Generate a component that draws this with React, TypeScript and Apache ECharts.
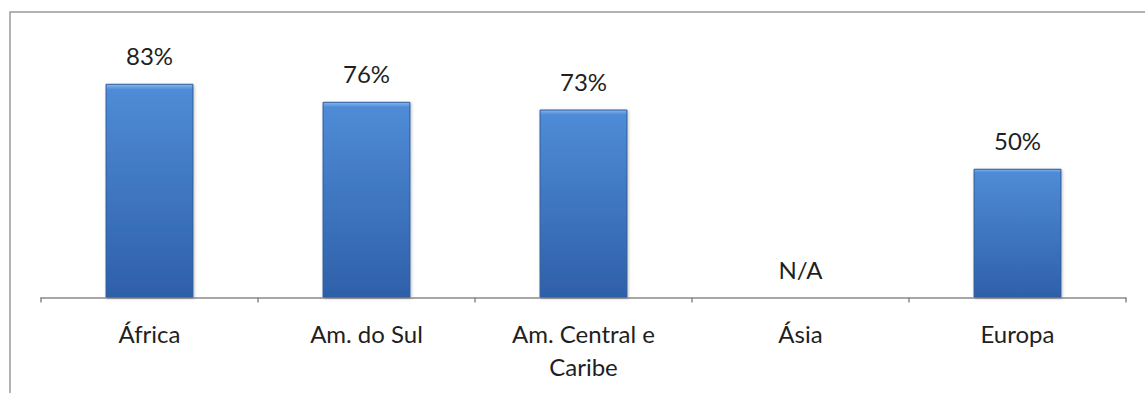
import React, { useEffect, useRef } from "react";
import * as echarts from "echarts";

const categories = ["África", "Am. do Sul", "Am. Central e\nCaribe", "Ásia", "Europa"];
// null marks a region without data (shown as N/A)
const values: (number | null)[] = [83, 76, 73, null, 50];

const FONT = "Lato, 'Liberation Sans', sans-serif";

export default function App() {
  const ref = useRef<HTMLDivElement>(null);

  useEffect(() => {
    if (!ref.current) return;
    const chart = echarts.init(ref.current, undefined, { renderer: "svg" });

    const barGradient = new echarts.graphic.LinearGradient(0, 0, 0, 1, [
      { offset: 0, color: "#86b6ef" },
      { offset: 0.025, color: "#4f8bd6" },
      { offset: 1, color: "#2e60a9" },
    ]);

    const seriesData = values.map((v) =>
      v === null
        ? {
            value: 0,
            itemStyle: {
              color: "rgba(0,0,0,0)",
              borderWidth: 0,
              shadowBlur: 0,
              shadowColor: "rgba(0,0,0,0)",
            },
            label: { formatter: "N/A" },
          }
        : { value: v }
    );

    chart.setOption({
      animation: false,
      backgroundColor: "#ffffff",
      graphic: [
        {
          type: "rect",
          shape: { x: 10, y: 12, width: 1160, height: 420 },
          style: { fill: "none", stroke: "#9a9a9a", lineWidth: 1.5 },
          silent: true,
          z: -1,
        },
      ],
      grid: { left: 41, right: 19, top: 40, bottom: 95.5, containLabel: false },
      xAxis: {
        type: "category",
        data: categories,
        boundaryGap: true,
        axisLine: { lineStyle: { color: "#8a8a8a", width: 1.5 } },
        axisTick: { show: true, length: 5, lineStyle: { color: "#8a8a8a", width: 1.5 } },
        axisLabel: {
          color: "#1f1f1f",
          fontSize: 24,
          fontFamily: FONT,
          margin: 19,
          lineHeight: 33,
          interval: 0,
        },
      },
      yAxis: {
        type: "value",
        min: 0,
        max: 100,
        show: false,
        splitLine: { show: false },
      },
      series: [
        {
          type: "bar",
          data: seriesData,
          barWidth: "40.5%",
          itemStyle: {
            color: barGradient,
            borderColor: "#2c5a9c",
            borderWidth: 1,
            shadowColor: "rgba(0,0,0,0.25)",
            shadowBlur: 3,
            shadowOffsetX: 1,
            shadowOffsetY: 1,
          },
          label: {
            show: true,
            position: "top",
            distance: 16,
            color: "#1f1f1f",
            fontSize: 24,
            fontFamily: FONT,
            formatter: "{c}%",
          },
        },
      ],
    });

    return () => chart.dispose();
  }, []);

  return (
    <div
      ref={ref}
      style={{ position: "fixed", left: 0, top: 0, width: 1145, height: 393 }}
    />
  );
}
